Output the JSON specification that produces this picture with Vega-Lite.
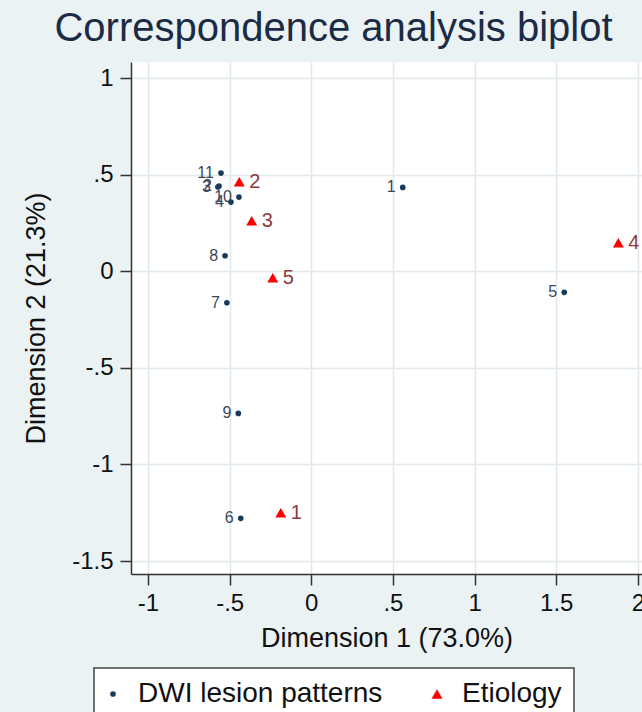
{
  "$schema": "https://vega.github.io/schema/vega-lite/v6.json",
  "width": 511,
  "height": 512,
  "autosize": {"type": "none"},
  "padding": {"left": 131, "top": 62, "right": 0, "bottom": 138},
  "background": "#eaf2f3",
  "title": {
    "text": "Correspondence analysis biplot",
    "fontSize": 40,
    "font": "Liberation Sans",
    "fontWeight": "normal",
    "color": "#1c2b45",
    "anchor": "middle",
    "frame": "group",
    "dx": -53,
    "dy": 38,
    "baseline": "alphabetic",
    "offset": 19
  },
  "data": {
    "values": [
      {"group": "DWI lesion patterns", "label": "1", "x": 0.560, "y": 0.434},
      {"group": "DWI lesion patterns", "label": "2", "x": -0.565, "y": 0.441},
      {"group": "DWI lesion patterns", "label": "3", "x": -0.572, "y": 0.436},
      {"group": "DWI lesion patterns", "label": "4", "x": -0.492, "y": 0.358},
      {"group": "DWI lesion patterns", "label": "5", "x": 1.549, "y": -0.109},
      {"group": "DWI lesion patterns", "label": "6", "x": -0.432, "y": -1.279},
      {"group": "DWI lesion patterns", "label": "7", "x": -0.517, "y": -0.163},
      {"group": "DWI lesion patterns", "label": "8", "x": -0.528, "y": 0.080},
      {"group": "DWI lesion patterns", "label": "9", "x": -0.447, "y": -0.736},
      {"group": "DWI lesion patterns", "label": "10", "x": -0.443, "y": 0.384},
      {"group": "DWI lesion patterns", "label": "11", "x": -0.553, "y": 0.508},
      {"group": "Etiology", "label": "1", "x": -0.187, "y": -1.250},
      {"group": "Etiology", "label": "2", "x": -0.441, "y": 0.463},
      {"group": "Etiology", "label": "3", "x": -0.365, "y": 0.261},
      {"group": "Etiology", "label": "4", "x": 1.880, "y": 0.148},
      {"group": "Etiology", "label": "5", "x": -0.236, "y": -0.034}
    ]
  },
  "encoding": {
    "x": {
      "field": "x", "type": "quantitative",
      "scale": {"domain": [-1.104, 2.025], "nice": false, "zero": false},
      "axis": {
        "title": "Dimension 1 (73.0%)",
        "values": [-1, -0.5, 0, 0.5, 1, 1.5, 2],
        "labelExpr": "datum.value == 0.5 ? '.5' : datum.value == -0.5 ? '-.5' : toString(datum.value)",
        "labelPadding": 6,
        "titlePadding": 10
      }
    },
    "y": {
      "field": "y", "type": "quantitative",
      "scale": {"domain": [-1.567, 1.083], "nice": false, "zero": false},
      "axis": {
        "title": "Dimension 2 (21.3%)",
        "values": [-1.5, -1, -0.5, 0, 0.5, 1],
        "labelExpr": "datum.value == 0.5 ? '.5' : datum.value == -0.5 ? '-.5' : toString(datum.value)",
        "labelPadding": 7,
        "titlePadding": 21
      }
    }
  },
  "layer": [
    {
      "mark": {"type": "point", "filled": true, "opacity": 1, "strokeWidth": 0},
      "encoding": {
        "color": {
          "field": "group", "type": "nominal",
          "scale": {"domain": ["DWI lesion patterns", "Etiology"], "range": ["#1a3a5c", "#ff0000"]},
          "legend": {"title": null}
        },
        "shape": {
          "field": "group", "type": "nominal",
          "scale": {"domain": ["DWI lesion patterns", "Etiology"], "range": ["circle", "triangle-up"]},
          "legend": {"title": null}
        },
        "size": {
          "field": "group", "type": "nominal",
          "scale": {"domain": ["DWI lesion patterns", "Etiology"], "range": [32, 120]},
          "legend": {"title": null}
        }
      }
    },
    {
      "transform": [{"filter": "datum.group == 'DWI lesion patterns'"}],
      "mark": {"type": "text", "align": "right", "baseline": "middle", "dx": -7, "fontSize": 16, "color": "#3b4658"},
      "encoding": {"text": {"field": "label"}}
    },
    {
      "transform": [{"filter": "datum.group == 'Etiology'"}],
      "mark": {"type": "text", "align": "left", "baseline": "middle", "dx": 10, "fontSize": 20, "color": "#8b3a3a"},
      "encoding": {"text": {"field": "label"}}
    }
  ],
  "config": {
    "font": "Liberation Sans",
    "view": {"fill": "white", "stroke": null},
    "axis": {
      "labelFont": "Liberation Sans",
      "titleFont": "Liberation Sans",
      "labelFontSize": 24,
      "titleFontSize": 27,
      "titleFontWeight": "normal",
      "labelColor": "#111111",
      "titleColor": "#111111",
      "domainColor": "#333333",
      "domainWidth": 1.5,
      "tickColor": "#333333",
      "tickWidth": 1.5,
      "tickSize": 11,
      "gridColor": "#e0e8ea",
      "gridWidth": 1.5,
      "grid": true,
      "labelOverlap": false,
      "labelBound": false,
      "labelFlush": false
    },
    "legend": {
      "orient": "none",
      "legendX": -37,
      "legendY": 606,
      "direction": "horizontal",
      "fillColor": "white",
      "strokeColor": "#444444",
      "strokeWidth": 1.5,
      "padding": 12,
      "labelFontSize": 28,
      "labelFont": "Liberation Sans",
      "labelColor": "#111111",
      "labelOffset": 11,
      "symbolOffset": -7,
      "columnPadding": 47,
      "symbolStrokeWidth": 0,
      "labelLimit": 400
    }
  }
}
